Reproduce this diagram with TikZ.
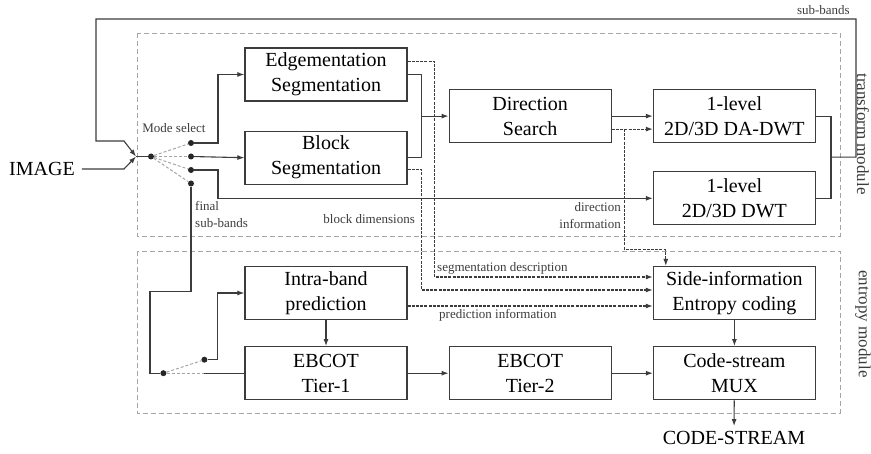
\documentclass[tikz,border=0pt]{standalone}
\usepackage{fontspec}
\setmainfont{Liberation Serif}
\usepackage{tikz}
\usetikzlibrary{arrows.meta, positioning, calc}
\definecolor{dgray}{RGB}{60, 60, 60}
\definecolor{lgray}{RGB}{165, 165, 165}

\begin{document}
\begin{tikzpicture}[
      x=1pt, y=-1pt,
      box/.style ={draw=dgray, line width=1.2pt, minimum width=162pt,
                   minimum height=53pt, inner sep=0pt, align=center,
                   font=\fontsize{20}{25}\selectfont},
      big/.style ={font=\fontsize{20}{24}\selectfont, inner sep=0pt},
      sub/.style ={font=\fontsize{13}{17}\selectfont, text=dgray, inner sep=1pt},
      side/.style={font=\fontsize{17}{20}\selectfont, text=dgray, rotate=-90},
      wire/.style={draw=dgray, line width=1.1pt},
      arr/.style ={wire, -{Latex[length=7pt, width=5pt]}},
      info/.style={arr, dash pattern=on 3pt off 1.2pt},
      sw/.style  ={draw=lgray, line width=1pt, dash pattern=on 3pt off 2pt},
      dot/.style ={circle, fill=black!85, inner sep=0pt, minimum size=6pt},
      modfr/.style={draw=lgray, line width=0.9pt, dash pattern=on 5pt off 3pt},
    ]
      \useasboundingbox (0,0) rectangle (871,454);
      \draw[modfr] (137,33) rectangle (840,236);
      \draw[modfr] (137,251) rectangle (840,413);
      \node[side] (tmod) at (863,134) {transform module};
      \node[side] (emod) at (863,324) {entropy module};

      \node[box] (edge) at (326,74.5) {Edgementation\\Segmentation};
      \node[box, below=29pt of edge] (block) {Block\\Segmentation};
      \coordinate (mid) at ($(edge.east)!0.5!(block.east)$);
      \coordinate (ej) at ($(mid)+(14,0)$);
      \node[box, right=41pt of mid] (dirs)  {Direction\\Search};
      \node[box, right=41pt of dirs] (dadwt) {1-level\\2D/3D DA-DWT};
      \node[box, below=28pt of dadwt] (dwt)  {1-level\\2D/3D DWT};
      \node[box] (intra) at (326,293) {Intra-band\\prediction};
      \node[box, below=26pt of intra] (tier1) {EBCOT\\Tier-1};
      \node[box, right=41pt of tier1] (tier2) {EBCOT\\Tier-2};
      \node[box, right=41pt of tier2] (mux)   {Code-stream\\MUX};
      \node[box, above=26pt of mux]   (sinfo) {Side-information\\Entropy coding};
      \node[big, inner sep=5pt] (cs) at (734,438) {CODE-STREAM};

      \node[big] (img) at (42,169) {IMAGE};
      \coordinate (merge) at (136,156.5);
      \node[dot] (hub) at (151,156.5) {};
      \node[dot] (s1) at ($(hub)+(40,-13.5)$) {};
      \node[dot] (s2) at ($(hub)+(40,0)$) {};
      \node[dot] (s3) at ($(hub)+(40,13.5)$) {};
      \node[dot] (s4) at ($(hub)+(40,27)$) {};
      \node[dot] (h2) at ($(tier1.west)+(-81,0)$) {};
      \node[dot] (t1) at ($(h2)+(41,-13.5)$) {};
      \coordinate (t2) at ($(h2)+(41,0)$);
      \coordinate (jn) at ($(dadwt.east)!0.5!(dwt.east)+(15,0)$);

      \draw[arr] ([xshift=7pt]img.east) -- (124,169) -- (merge);
      \draw[arr] (jn) -- ++(25,0) |- (96,19) |- (124,141) -- (merge);
      \draw[wire] (merge) -- (hub);
      \foreach \s in {s1,s2,s3,s4}
        \draw[sw] (hub) -- (\s);
      \draw[arr] (s1) -- ++(27,0) |- (edge.west);
      \draw[arr] (s2) -- (block.west);
      \draw[arr] (s3) -- ++(27,0) |- (dwt.west);
      \draw[wire] (s4) -- ++(0,108) -- ++(-41,0) |- (h2);
      \draw[sw] (h2) -- (t1);
      \draw[sw] (h2) -- (t2);
      \draw[arr] (t1) -- ++(13,0) |- (intra.west);
      \draw[wire] (t2) -- (tier1.west);

      \draw[wire] (edge.east) -| (ej) |- (block.east);
      \draw[arr] (ej) -- (dirs.west);
      \draw[arr] (dirs.east) -- (dadwt.west);
      \draw[info] ([yshift=-13pt]dirs.east) -- ([yshift=-13pt]dadwt.west);
      \draw[info] ($(dirs.east)+(13,13)$) |- ($(sinfo.north west)+(13,-16)$)
                  -- ($(sinfo.north west)+(13,0)$);
      \draw[wire] (dadwt.east) -| (jn) |- (dwt.east);

      \draw[info] ($(edge.east)+(0,-13)$) -- ++(27,0) |- ($(sinfo.west)+(0,-16)$);
      \draw[info] ($(block.east)+(0,12)$) -- ++(14,0) |- ($(sinfo.west)+(0,-3)$);
      \draw[info] ($(intra.east)+(0,13)$) -- ($(sinfo.west)+(0,13)$);

      \draw[arr] (intra.south) -- (tier1.north);
      \draw[arr] (tier1) -- (tier2);
      \draw[arr] (tier2) -- (mux);
      \draw[arr] (sinfo) -- (mux);
      \draw[arr] (mux) -- (cs);

      \node[sub] (msel) at (174,128) {Mode select};
      \node[sub, align=left, anchor=north west] (fsb) at (194,200) {final\\sub-bands};
      \node[sub, anchor=east] (bdim) at (416,219) {block dimensions};
      \node[sub, align=right, anchor=north east] (dinf) at (622,201) {direction\\information};
      \node[sub, anchor=west] (sdesc) at (436,268) {segmentation description};
      \node[sub, anchor=west] (pinf) at (438,315) {prediction information};
      \node[sub, anchor=east] (sbl) at (851,10) {sub-bands};
    \end{tikzpicture}
\end{document}
